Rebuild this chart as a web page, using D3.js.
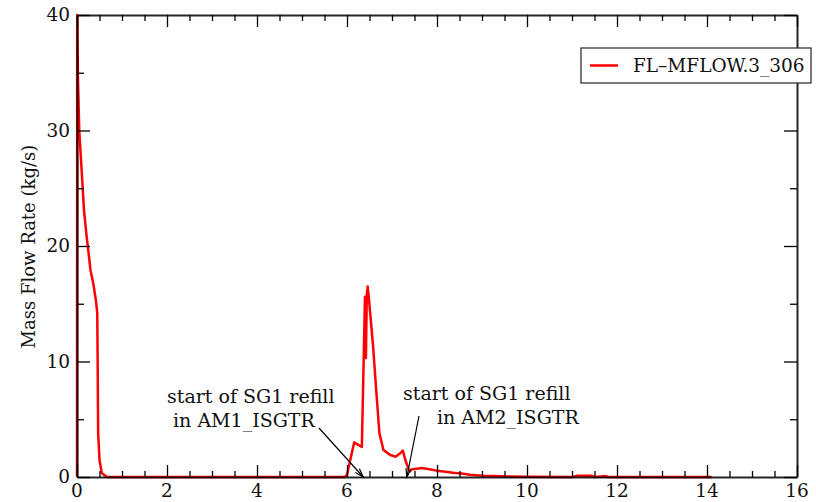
<!DOCTYPE html>
<html>
<head>
<meta charset="utf-8">
<script src="https://cdn.jsdelivr.net/npm/d3@7"></script>
<style>
    body { margin: 0; background: #fff; }
    svg { display: block; font-family: "DejaVu Serif", serif; }
</style>
</head>
<body>
<svg id="chart" width="816" height="502"></svg>
<script>
// time (h) and mass flow (kg/s)
const time = [0, 0.005, 0.02, 0.05, 0.09, 0.13, 0.155, 0.215, 0.25, 0.30, 0.36, 0.42, 0.45, 0.46, 0.47, 0.50, 0.55, 0.66,
    2, 4, 5.95, 6.0, 6.16, 6.33, 6.40, 6.42, 6.44, 6.46, 6.49, 6.58, 6.66, 6.72, 6.81, 6.96, 7.08, 7.18, 7.24, 7.31,
    7.39, 7.44, 7.55, 7.66, 7.8, 7.99, 8.15, 8.36, 8.55, 8.73, 9.02, 9.47, 10.0, 11.0, 11.1, 11.45, 11.5, 11.75,
    11.8, 11.9, 12.5, 14.1];
const flow = [0, 40, 34.7, 30, 27.4, 24.8, 23.1, 20.8, 19.65, 17.9, 16.8, 15.3, 14.2, 9.5, 3.8, 1.5, 0.35, 0,
    0, 0, 0, 0.2, 3.0, 2.6, 15.6, 10.3, 15.75, 16.5, 15.3, 11.3, 6.95, 3.8, 2.34, 1.9, 1.76, 2.05, 2.28, 1.3,
    0.46, 0.66, 0.72, 0.78, 0.7, 0.55, 0.48, 0.37, 0.3, 0.2, 0.1, 0.06, 0.02, 0, 0.1, 0.1, 0,
    0.08, 0, 0, 0, 0];

const seriesName = "FL\u2013MFLOW.3_306";
const yTitle = "Mass Flow Rate (kg/s)";
const xTicks = [0, 2, 4, 6, 8, 10, 12, 14, 16];
const yTicks = [0, 10, 20, 30, 40];

// notes: arrow tip in data units, text lines
const notes = [
    { t: 6.36, v: 0, lines: ["start of SG1 refill", " in AM1_ISGTR"] },
    { t: 7.33, v: 0, lines: ["start of SG1 refill", "in AM2_ISGTR"] }
];

const svg = d3.select("#chart");
const margin = { top: 15, right: 19, bottom: 25, left: 77 };
const width = 816 - margin.left - margin.right;
const height = 502 - margin.top - margin.bottom;

const x = d3.scaleLinear().domain([0, 16]).range([0, width]);
const y = d3.scaleLinear().domain([0, 40]).range([height, 0]);

const g = svg.append("g").attr("transform", `translate(${margin.left},${margin.top})`);

// data line
const data = time.map((t, i) => ({ t, v: flow[i] }));
g.append("path")
    .datum(data)
    .attr("fill", "none")
    .attr("stroke", "#ff0000")
    .attr("stroke-width", 2.5)
    .attr("stroke-linejoin", "round")
    .attr("d", d3.line().x(d => x(d.t)).y(d => y(d.v)));

// inward ticks on all four sides
const xMinor = d3.range(0, 16.01, 0.5);
const yMinor = d3.range(0, 40.01, 5);
const isMajorX = d => Math.abs(d / 2 - Math.round(d / 2)) < 1e-6;
const isMajorY = d => d % 10 === 0;

const axB = g.append("g").attr("transform", `translate(0,${height})`)
    .call(d3.axisBottom(x).tickValues(xMinor).tickSizeInner(0).tickSizeOuter(0).tickFormat(""));
axB.selectAll(".tick line").attr("y2", d => isMajorX(d) ? -12 : -6).attr("stroke-width", 1.3);

const axT = g.append("g")
    .call(d3.axisTop(x).tickValues(xMinor).tickSizeInner(0).tickSizeOuter(0).tickFormat(""));
axT.selectAll(".tick line").attr("y2", d => isMajorX(d) ? 12 : 6).attr("stroke-width", 1.3);

const axL = g.append("g")
    .call(d3.axisLeft(y).tickValues(yMinor).tickSizeInner(0).tickSizeOuter(0).tickFormat(""));
axL.selectAll(".tick line").attr("x2", d => isMajorY(d) ? 13 : 7).attr("stroke-width", 1.3);

const axR = g.append("g").attr("transform", `translate(${width},0)`)
    .call(d3.axisRight(y).tickValues(yMinor).tickSizeInner(0).tickSizeOuter(0).tickFormat(""));
axR.selectAll(".tick line").attr("x2", d => isMajorY(d) ? -13 : -7).attr("stroke-width", 1.3);

g.selectAll(".domain").attr("stroke", "#000").attr("stroke-width", 2).attr("stroke-opacity", 0.85);

// tick labels
g.selectAll(".xlab").data(xTicks).enter().append("text")
    .attr("x", d => x(d)).attr("y", height + 20)
    .attr("text-anchor", "middle").attr("font-size", 18.5).attr("fill", "#111")
    .text(d => d);
g.selectAll(".ylab").data(yTicks).enter().append("text")
    .attr("x", -7).attr("y", d => y(d)).attr("dy", "0.35em")
    .attr("text-anchor", "end").attr("font-size", 18.5).attr("fill", "#111")
    .text(d => d);

// y title
svg.append("text")
    .attr("transform", `translate(35,${margin.top + y(19.95)}) rotate(-90)`)
    .attr("text-anchor", "middle").attr("font-size", 18).attr("fill", "#111")
    .text(yTitle);

// annotations
const noteText = [
    { x: [167, 167], y: 403, tailX: 319, tailY: 428 },
    { x: [403, 437], y: 400, tailX: 419, tailY: 416 }
];
notes.forEach((n, i) => {
    const p = noteText[i];
    const txt = svg.append("text").attr("font-size", 19).attr("fill", "#111").attr("xml:space", "preserve");
    n.lines.forEach((l, j) => {
        txt.append("tspan").attr("x", p.x[j]).attr("y", p.y + j * 24).text(l);
    });
    const tx = margin.left + x(n.t), ty = margin.top + y(n.v);
    svg.append("line")
        .attr("x1", p.tailX).attr("y1", p.tailY).attr("x2", tx).attr("y2", ty)
        .attr("stroke", "#000").attr("stroke-width", 1.2);
    const ang = Math.atan2(ty - p.tailY, tx - p.tailX);
    const len = 9, spread = 0.3;
    svg.append("path")
        .attr("d", `M${tx - len * Math.cos(ang - spread)},${ty - len * Math.sin(ang - spread)}L${tx},${ty}L${tx - len * Math.cos(ang + spread)},${ty - len * Math.sin(ang + spread)}`)
        .attr("fill", "none").attr("stroke", "#000").attr("stroke-width", 1.2);
});

// legend
const lg = svg.append("g").attr("transform", "translate(581,48)");
lg.append("rect").attr("width", 230).attr("height", 35)
    .attr("fill", "#fff").attr("stroke", "#333").attr("stroke-width", 1.3);
lg.append("line").attr("x1", 9).attr("x2", 37).attr("y1", 17.5).attr("y2", 17.5)
    .attr("stroke", "#ff0000").attr("stroke-width", 2.5);
lg.append("text").attr("x", 52).attr("y", 17.5).attr("dy", "0.35em")
    .attr("font-size", 18.5).attr("fill", "#111").text(seriesName);
</script>
</body>
</html>
